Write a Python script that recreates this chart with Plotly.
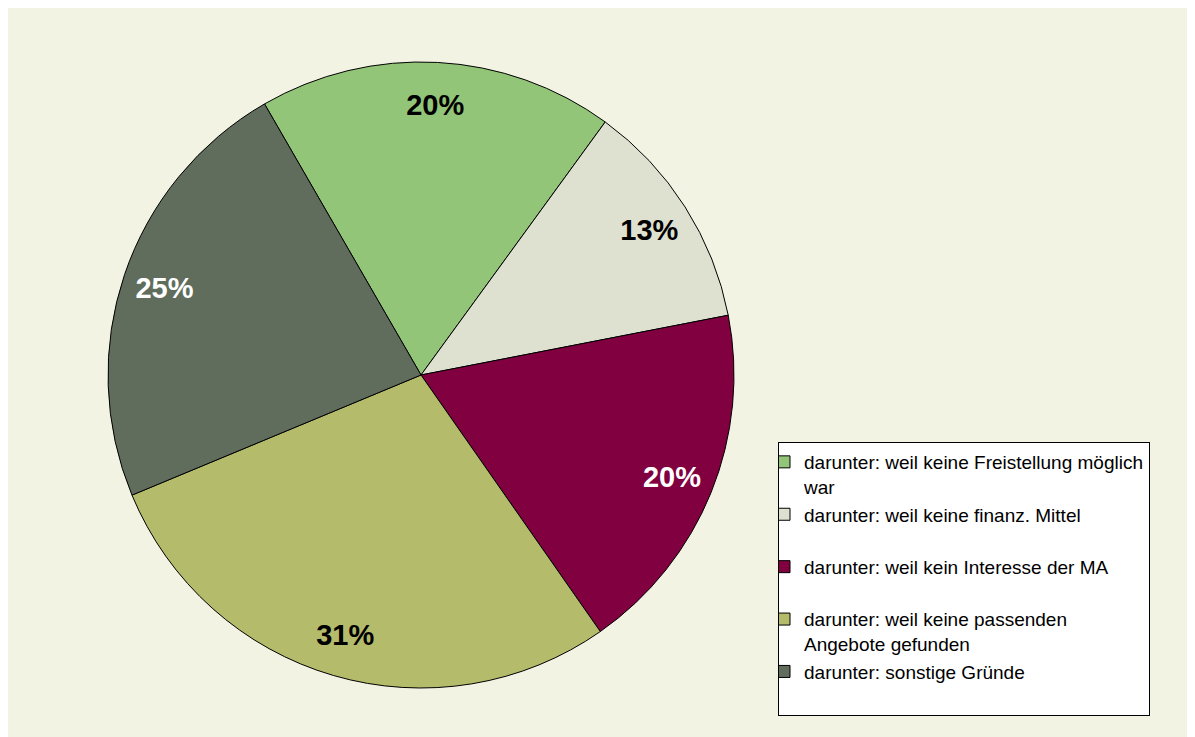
import plotly.graph_objects as go

# categories / values
categories = [
    "darunter: weil keine Freistellung möglich<br>war",
    "darunter: weil keine finanz. Mittel<br> ",
    "darunter: weil kein Interesse der MA<br> ",
    "darunter: weil keine passenden<br>Angebote gefunden",
    "darunter: sonstige Gründe<br> ",
]
values = [20, 13, 20, 31, 25]
slice_colors = ["#92C578", "#DEE1D0", "#800040", "#B4BB6A", "#606D5C"]
label_colors = ["black", "black", "white", "black", "white"]

# a little larger than the window so the beige reaches the right/bottom edge
W, H = 1210, 750
FONT = "Arial, Liberation Sans, sans-serif"

# the page puts the figure 8px in from the top-left corner
cx, cy, r = 421 - 8, 375 - 8, 313
dom_x = [(cx - r) / W, (cx + r) / W]
dom_y = [1 - (cy + r) / H, 1 - (cy - r) / H]

fig = go.Figure()

# the coloured pie
fig.add_trace(go.Pie(
    labels=categories,
    values=values,
    sort=False,
    direction="clockwise",
    rotation=-30,
    domain=dict(x=dom_x, y=dom_y),
    marker=dict(colors=slice_colors, line=dict(color="black", width=1)),
    textinfo="none",
    hoverinfo="label+value",
))

# transparent ring on top, only to put the labels near the rim like Excel does
fig.add_trace(go.Pie(
    labels=categories,
    values=values,
    sort=False,
    direction="clockwise",
    rotation=-30,
    hole=0.73,
    domain=dict(x=dom_x, y=dom_y),
    marker=dict(colors=["rgba(0,0,0,0)"] * len(values), line=dict(width=0)),
    text=[f"{v}%" for v in values],
    textinfo="text",
    textposition="inside",
    insidetextorientation="horizontal",
    textfont=dict(family=FONT, size=29, color=label_colors, weight="bold"),
    showlegend=False,
    hoverinfo="skip",
))

fig.update_layout(
    width=W,
    height=H,
    margin=dict(l=0, r=0, t=0, b=0),
    paper_bgcolor="#F3F3E4",
    font=dict(family=FONT, color="black"),
    legend=dict(
        x=(778 - 8) / W, y=1 - (442 - 8) / H,
        xanchor="left", yanchor="top",
        bgcolor="white",
        bordercolor="black",
        borderwidth=1,
        font=dict(family=FONT, size=19, color="black"),
        valign="top",
        indentation=-15,
        traceorder="normal",
    ),
)

fig.write_html("out.html")
